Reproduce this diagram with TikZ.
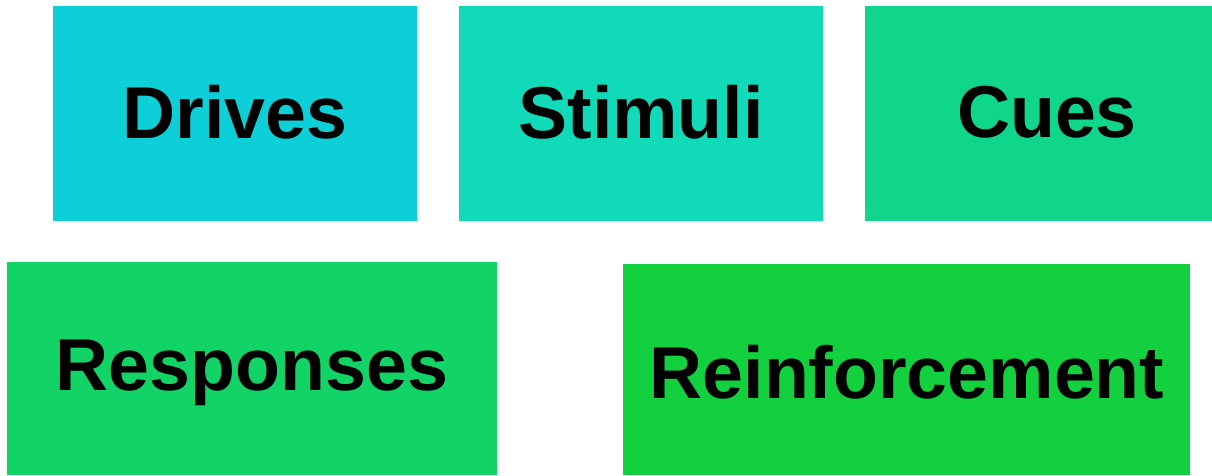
\documentclass[tikz,border=0pt]{standalone}
\usepackage{fontspec}
\setmainfont{Liberation Sans}
\definecolor{cDrives}{HTML}{0DCFD8}
\definecolor{cStimuli}{HTML}{10DAB8}
\definecolor{cCues}{HTML}{10D68C}
\definecolor{cResp}{HTML}{12D366}
\definecolor{cReinf}{HTML}{12D03E}
\begin{document}
\begin{tikzpicture}[x=1pt,y=-1pt,
  lbl/.style={font=\fontsize{73.5}{80}\selectfont\bfseries, text=black, inner sep=0pt}]
\useasboundingbox (0,0) rectangle (1212,475);
\fill[cDrives] (53,6) rectangle (417,221);
\fill[cStimuli] (459,6) rectangle (823,221);
\fill[cCues] (865,6) rectangle (1212,221);
\fill[cResp] (7,262) rectangle (497,475);
\fill[cReinf] (623,264) rectangle (1190,475);
\node[lbl] (drives) at (235,112) {Drives};
\node[lbl] (stimuli) at (641,112) {Stimuli};
\node[lbl] (cues) at (1047,112) {Cues};
\node[lbl] (resp) at (252,373) {Responses};
\node[lbl] (reinf) at (907,372) {Reinforcement};
\end{tikzpicture}
\end{document}
